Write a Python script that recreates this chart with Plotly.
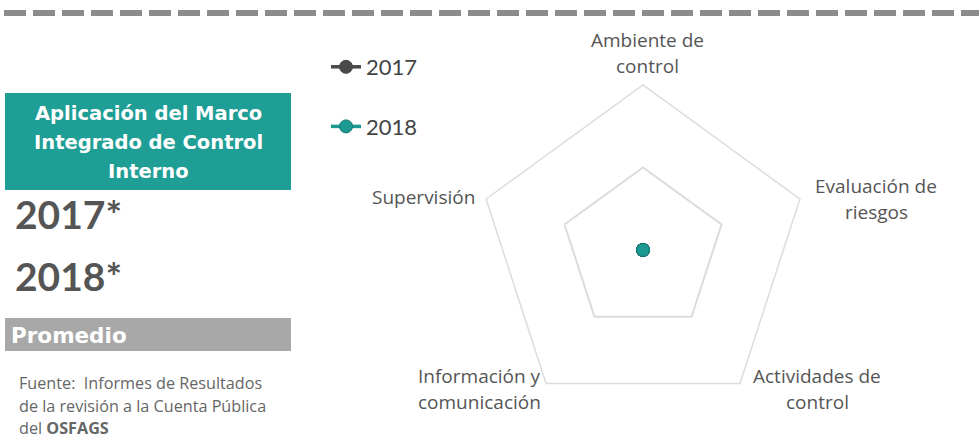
import plotly.graph_objects as go

W, H = 979, 438

categories = ["Ambiente de<br>control", "Evaluación de<br>riesgos", "Actividades de<br>control",
              "Información y<br>comunicación", "Supervisión"]
values_2017 = [0, 0, 0, 0, 0]
values_2018 = [0, 0, 0, 0, 0]
series_names = ["2017", "2018"]
series_colors = ["#4a4a4a", "#1c9a92"]

title_lines = ["Aplicación del Marco", "Integrado de Control", "Interno"]
year_labels = ["2017*", "2018*"]
avg_label = "Promedio"
source_lines = ["Fuente:  Informes de Resultados", "de la revisión a la Cuenta Pública", "del <b>OSFAGS</b>"]

def px(x):
    return x / W

def py(y):
    return 1 - y / H

fig = go.Figure()
for name, vals, col in zip(series_names, [values_2017, values_2018], series_colors):
    fig.add_trace(go.Scatterpolar(
        r=vals + vals[:1], theta=categories + categories[:1], name=name,
        mode="lines+markers", legendgroup=name, cliponaxis=True,
        line=dict(color=col, width=3.5),
        marker=dict(color=col, size=13, line=dict(color="#15756f" if name == "2018" else col, width=1)),
    ))

cx, cy, R = 643, 250, 165
fig.update_layout(
    width=W, height=H, margin=dict(l=0, r=0, t=0, b=0),
    paper_bgcolor="white", plot_bgcolor="white",
    font=dict(family="Open Sans, sans-serif", color="#555555"),
    polar=dict(
        domain=dict(x=[px(cx - R), px(cx + R)], y=[1 - (cy + R) / H, 1 - (cy - R) / H]),
        gridshape="linear", bgcolor="white",
        radialaxis=dict(range=[-0.001, 2], tickvals=[1, 2], showticklabels=False, ticks="", showline=False,
                        gridcolor="#dcdcdc", gridwidth=1.5),
        angularaxis=dict(rotation=90, direction="clockwise", showgrid=False,
                         ticks="", showticklabels=False,
                         showline=True, linecolor="#dcdcdc", linewidth=1.5),
    ),
    showlegend=True,
    legend=dict(x=px(326), y=py(46), xanchor="left", yanchor="top",
                font=dict(size=22, color="#444444", family="Lato, sans-serif"),
                traceorder="grouped", tracegroupgap=28, bgcolor="rgba(0,0,0,0)"),
)

shapes = [
    dict(type="line", xref="paper", yref="paper", x0=px(4), x1=1, y0=py(13), y1=py(13),
         line=dict(color="#8c8c8c", width=6, dash="22px,7px")),
    dict(type="rect", xref="paper", yref="paper", x0=px(5), x1=px(291), y0=py(93), y1=py(190),
         fillcolor="#1f9e96", line=dict(width=0)),
    dict(type="rect", xref="paper", yref="paper", x0=px(5), x1=px(291), y0=py(318), y1=py(351),
         fillcolor="#a8a8a8", line=dict(width=0)),
]
fig.update_layout(shapes=shapes)

ann = []
# category labels around the pentagon (label block centres, in pixels)
label_pos = [(647, 53), (876, 198.5), (817, 388.5), (479, 388.5), (423, 197)]
for cat, (lx, ly) in zip(categories, label_pos):
    parts = cat.split("<br>")
    n = len(parts)
    for j, part in enumerate(parts):
        yy = ly + (j - (n - 1) / 2) * 26
        ann.append(dict(text=part, x=px(lx), y=py(yy), xref="paper", yref="paper",
                        showarrow=False, xanchor="center", yanchor="middle",
                        font=dict(size=19, color="#555555", family="Open Sans, sans-serif")))
for i, t in enumerate(title_lines):
    ann.append(dict(text="<b>" + t + "</b>", x=px(148), y=py(114 + 28.5 * i), xref="paper", yref="paper",
                    showarrow=False, xanchor="center", yanchor="middle",
                    font=dict(size=19.5, color="white", family="DejaVu Sans, sans-serif")))
for i, t in enumerate(year_labels):
    ann.append(dict(text="<b>" + t + "</b>", x=px(13), y=py(214 + 62 * i), xref="paper", yref="paper",
                    showarrow=False, xanchor="left", yanchor="middle",
                    font=dict(size=39, color="#555555", family="Lato, sans-serif")))
ann.append(dict(text="<b>" + avg_label + "</b>", x=px(9), y=py(335), xref="paper", yref="paper",
                showarrow=False, xanchor="left", yanchor="middle",
                font=dict(size=21.5, color="white", family="DejaVu Sans, sans-serif")))
for i, t in enumerate(source_lines):
    ann.append(dict(text=t, x=px(17), y=py(383 + 22.5 * i), xref="paper", yref="paper",
                    showarrow=False, xanchor="left", yanchor="middle",
                    font=dict(size=16.2, color="#666666", family="Open Sans, sans-serif")))
fig.update_layout(annotations=ann)

fig.write_html("out.html", config={"displayModeBar": False},
               post_script="document.body.style.margin='0px';")
